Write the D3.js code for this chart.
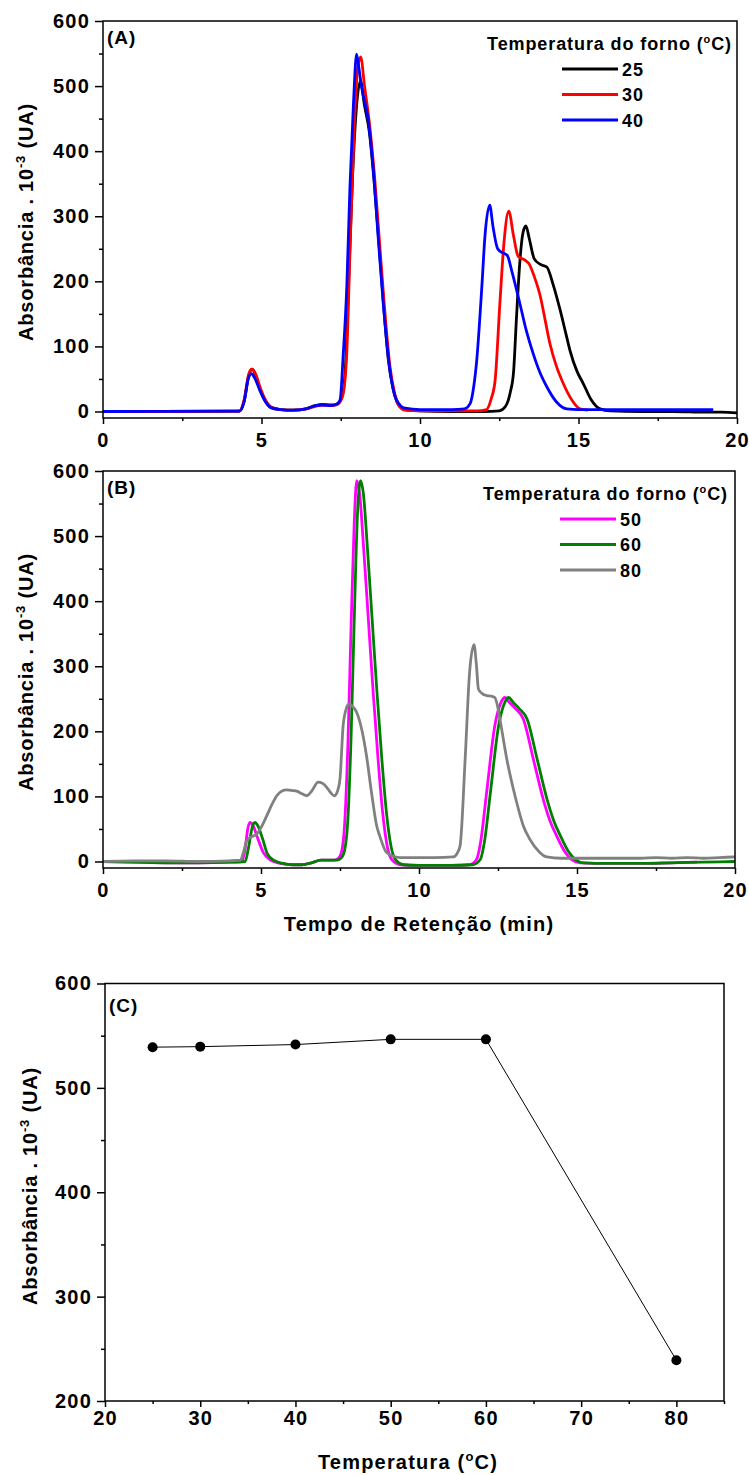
<!DOCTYPE html>
<html>
<head>
<meta charset="utf-8">
<script src="https://cdn.jsdelivr.net/npm/d3@7"></script>
<style>
    body { margin: 0; background: #fff; }
    text { font-family: "Liberation Sans", Arial, sans-serif; font-weight: bold; fill: #000; }
</style>
</head>
<body>
<svg id="fig" width="749" height="1475"></svg>
<script>
// ---- data ----
// panel A : tempo (min), absorbancia
var serie25 = [[0,0],[4.3,0.5],[4.45,15],[4.6,55],[4.7,65],[4.8,58],[4.95,35],[5.1,18],[5.3,6],[5.6,3],[6.0,2],[6.4,4],[6.7,9],[6.9,11],[7.2,10],[7.4,12],[7.55,25],[7.65,70],[7.75,200],[7.88,370],[8.0,470],[8.12,508],[8.25,470],[8.4,430],[8.55,355],[8.7,262],[8.85,165],[9.0,80],[9.15,35],[9.3,12],[9.5,3],[10,1],[11,0],[12,0],[12.5,1],[12.7,8],[12.85,30],[12.95,60],[13.05,150],[13.15,230],[13.25,275],[13.34,285],[13.45,265],[13.6,235],[13.8,226],[14.0,222],[14.2,195],[14.42,156],[14.6,120],[14.73,94],[14.95,62],[15.15,43],[15.4,18],[15.68,4],[16,1],[17,0],[18,0],[19,-1],[19.5,-1],[20,-2]];
var serie30 = [[0,0],[4.3,0.5],[4.45,18],[4.6,58],[4.7,65],[4.82,57],[4.95,38],[5.1,20],[5.3,7],[5.6,3],[6.0,2],[6.4,4],[6.7,8],[6.9,10],[7.2,9],[7.4,11],[7.55,22],[7.68,80],[7.8,260],[7.92,430],[8.04,530],[8.13,545],[8.25,500],[8.4,445],[8.56,365],[8.72,262],[8.88,160],[9.05,70],[9.2,28],[9.35,8],[9.55,2],[10,1],[11,1],[11.8,1],[12.1,3],[12.25,20],[12.37,48],[12.52,166],[12.65,260],[12.8,308],[12.95,270],[13.1,238],[13.3,233],[13.45,226],[13.6,208],[13.8,176],[13.95,140],[14.1,104],[14.3,70],[14.52,43],[14.8,17],[15.05,4],[15.3,2]];
var serie40 = [[0,0],[4.3,0.5],[4.45,15],[4.58,50],[4.68,58],[4.8,50],[4.95,32],[5.1,17],[5.3,6],[5.6,3],[6.0,2],[6.4,4],[6.7,9],[6.9,10],[7.2,9],[7.4,12],[7.48,18],[7.58,89],[7.69,191],[7.79,345],[7.9,472],[8.0,549],[8.08,525],[8.16,498],[8.37,447],[8.53,370],[8.68,268],[8.84,166],[9.05,64],[9.26,18],[9.53,5],[10,3],[11,3],[11.4,4],[11.58,12],[11.7,40],[11.79,79],[11.95,191],[12.05,270],[12.2,317],[12.3,285],[12.45,250],[12.6,244],[12.75,240],[12.9,215],[13.15,166],[13.35,125],[13.57,89],[13.8,58],[14.0,38],[14.3,15],[14.63,4],[15,3],[17,3],[19.25,3]];

// panel B
var serie50 = [[0,0],[1,-1],[2,-2],[3,-2],[4,-1],[4.4,0],[4.5,20],[4.58,50],[4.65,60],[4.75,55],[4.9,35],[5.07,14],[5.3,2],[5.6,-3],[6.0,-5],[6.3,-5],[6.6,-2],[6.9,2],[7.3,2],[7.45,5],[7.55,15],[7.65,60],[7.75,180],[7.85,360],[7.95,520],[8.03,585],[8.12,565],[8.25,480],[8.4,370],[8.55,260],[8.7,160],[8.85,75],[9.0,22],[9.15,2],[9.4,-5],[10,-6],[11,-6],[11.6,-5],[11.82,3],[11.95,30],[12.14,106],[12.4,209],[12.6,245],[12.72,252],[12.85,245],[13.05,235],[13.3,219],[13.62,157],[13.93,96],[14.15,62],[14.36,39],[14.6,16],[14.83,3],[15.1,-2],[16,-3],[17,-3],[18,-2],[18.8,-1]];
var serie60 = [[0,0],[1,-1],[2,-2],[3,-2],[4,-1],[4.5,0],[4.6,20],[4.72,52],[4.8,60],[4.9,55],[5.05,35],[5.2,12],[5.4,2],[5.7,-3],[6.0,-5],[6.3,-5],[6.6,-2],[6.9,2],[7.4,2],[7.55,6],[7.65,18],[7.75,65],[7.85,190],[7.95,370],[8.05,530],[8.15,585],[8.24,565],[8.37,480],[8.52,370],[8.67,260],[8.82,160],[8.97,75],[9.12,22],[9.27,2],[9.5,-5],[10,-6],[11,-6],[11.7,-5],[11.94,3],[12.07,30],[12.26,106],[12.52,209],[12.72,245],[12.84,252],[12.97,245],[13.17,235],[13.42,219],[13.74,157],[14.05,96],[14.27,62],[14.48,39],[14.72,16],[14.95,3],[15.2,-2],[16,-3],[17,-3],[18,-2],[19,-1],[20,0]];
var serie80 = [[0,0],[1,1],[2,1],[3,0],[4,1],[4.35,2],[4.45,15],[4.55,32],[4.7,38],[4.86,42],[5.0,52],[5.18,70],[5.35,88],[5.5,101],[5.65,108],[5.81,110],[6.0,109],[6.13,108],[6.3,104],[6.45,101],[6.6,108],[6.81,122],[6.95,120],[7.08,114],[7.2,106],[7.32,101],[7.42,108],[7.5,127],[7.6,209],[7.7,235],[7.79,242],[7.9,238],[8.03,229],[8.2,200],[8.34,162],[8.5,105],[8.66,55],[8.76,39],[8.97,14],[9.2,8],[9.4,6],[10,6],[10.5,6],[11.08,7],[11.2,12],[11.3,24],[11.46,157],[11.6,290],[11.74,333],[11.82,300],[11.88,265],[12.0,258],[12.14,255],[12.3,254],[12.4,252],[12.48,240],[12.56,219],[12.78,157],[13.09,91],[13.3,55],[13.51,34],[13.8,15],[14.04,7],[14.5,5],[15,5],[16,5],[17,5],[17.5,6],[18,5],[18.5,6],[19,5],[19.5,6],[20,7]];

// panel C
var temperaturas = [25, 30, 40, 50, 60, 80];
var absMax = [539, 539.5, 541.5, 546.5, 546.5, 239];

// ticks
var tempoTicks = [0, 5, 10, 15, 20];
var tempoMinor = [2.5, 7.5, 12.5, 17.5];
var absTicks = [0, 100, 200, 300, 400, 500, 600];
var absMinor = [50, 150, 250, 350, 450, 550];
var tempTicks = [20, 30, 40, 50, 60, 70, 80];
var tempMinor = [25, 35, 45, 55, 65, 75, 85];
var absCTicks = [200, 300, 400, 500, 600];
var absCMinor = [250, 350, 450, 550];

var legendA = ["25", "30", "40"];
var legendB = ["50", "60", "80"];
var coresA = ["#000000", "#ff0000", "#0000ff"];
var coresB = ["#ff00ff", "#008000", "#808080"];

var svg = d3.select("#fig");

function styleTicks(sel) {
    sel.attr("font-family", null).attr("font-size", null);
    sel.selectAll("text")
        .style("font-size", "20px")
        .style("letter-spacing", "1.2px");
    sel.selectAll("line").attr("stroke", "#000").attr("stroke-width", 1.5);
    sel.select(".domain").remove();
}

function yLabel(g, cx, cy) {
    var t = g.append("text")
        .attr("transform", "translate(" + cx + "," + cy + ") rotate(-90)")
        .attr("text-anchor", "middle")
        .style("font-size", "20px")
        .style("letter-spacing", "0.8px");
    t.append("tspan").text("Absorbância . 10");
    t.append("tspan").attr("dy", -8).style("font-size", "13px").text("-3");
    t.append("tspan").attr("dy", 8).text(" (UA)");
}

function drawAxes(g, x, y, w, h, xt, xm, yt, ym, xpad) {
    g.append("g")
        .attr("transform", "translate(0," + h + ")")
        .call(d3.axisBottom(x).tickValues(xm).tickSize(3).tickFormat("").tickSizeOuter(0))
        .call(styleTicks);
    g.append("g")
        .attr("transform", "translate(0," + h + ")")
        .call(d3.axisBottom(x).tickValues(xt).tickSize(6).tickPadding(xpad).tickSizeOuter(0).tickFormat(d3.format("d")))
        .call(styleTicks);
    g.append("g")
        .call(d3.axisLeft(y).tickValues(ym).tickSize(4).tickFormat("").tickSizeOuter(0))
        .call(styleTicks);
    g.append("g")
        .call(d3.axisLeft(y).tickValues(yt).tickSize(8).tickPadding(5).tickSizeOuter(0).tickFormat(d3.format("d")))
        .call(styleTicks);
    g.append("rect")
        .attr("width", w).attr("height", h)
        .attr("fill", "none").attr("stroke", "#000").attr("stroke-width", 1.5);
}

function drawChrom(box, series, cores, nomes, letra, legendX, legendTitleX) {
    var w = box.right - box.left, h = box.bottom - box.top;
    var g = svg.append("g").attr("transform", "translate(" + box.left + "," + box.top + ")");

    var x = d3.scaleLinear().domain([0, 20]).range([0, w]);
    var y = d3.scaleLinear().domain([-10, 600]).range([h, 0]);

    var line = d3.line().curve(d3.curveMonotoneX)
        .x(function(d) { return x(d[0]); })
        .y(function(d) { return y(d[1]); });

    g.append("clipPath").attr("id", "clip" + letra)
        .append("rect").attr("width", w).attr("height", h);

    g.append("g").attr("clip-path", "url(#clip" + letra + ")")
        .selectAll("path").data(series).enter().append("path")
        .attr("fill", "none")
        .attr("stroke", function(d, i) { return cores[i]; })
        .attr("stroke-width", 2.8)
        .attr("stroke-linejoin", "round")
        .attr("d", line);

    drawAxes(g, x, y, w, h, tempoTicks, tempoMinor, absTicks, absMinor, 9);

    g.append("text").attr("x", 4).attr("y", 23)
        .style("font-size", "19px").style("letter-spacing", "1px")
        .text("(" + letra + ")");

    // legend
    var lt = g.append("text")
        .attr("x", legendTitleX - box.left).attr("y", 29)
        .attr("text-anchor", "end")
        .style("font-size", "18px").style("letter-spacing", "0.9px");
    lt.append("tspan").text("Temperatura do forno (");
    lt.append("tspan").attr("dy", -7).style("font-size", "11px").text("o");
    lt.append("tspan").attr("dy", 7).text("C)");

    var item = g.selectAll(".leg").data(nomes).enter().append("g")
        .attr("transform", function(d, i) { return "translate(" + (legendX - box.left) + "," + (48 + i * 25.5) + ")"; });
    item.append("line")
        .attr("x1", 0).attr("x2", 56)
        .attr("stroke", function(d, i) { return cores[i]; })
        .attr("stroke-width", 3);
    item.append("text").attr("x", 60).attr("y", 6.5)
        .style("font-size", "18px").style("letter-spacing", "1px")
        .text(function(d) { return d; });

    return g;
}

// ---- panel A ----
var gA = drawChrom({ left: 103, right: 737, top: 21, bottom: 418 },
    [serie25, serie30, serie40], coresA, legendA, "A", 562, 732);
yLabel(svg, 33, 222);

// ---- panel B ----
var gB = drawChrom({ left: 103, right: 735, top: 471, bottom: 868 },
    [serie50, serie60, serie80], coresB, legendB, "B", 560, 728);
yLabel(svg, 33, 672);

svg.append("text")
    .attr("x", 419).attr("y", 931)
    .attr("text-anchor", "middle")
    .style("font-size", "20px").style("letter-spacing", "1.2px")
    .text("Tempo de Retenção (min)");

// ---- panel C ----
var boxC = { left: 105, right: 724, top: 983.5, bottom: 1401 };
var wC = boxC.right - boxC.left, hC = boxC.bottom - boxC.top;
var gC = svg.append("g").attr("transform", "translate(" + boxC.left + "," + boxC.top + ")");

var xC = d3.scaleLinear().domain([20, 85]).range([0, wC]);
var yC = d3.scaleLinear().domain([200, 600]).range([hC, 0]);

var pontos = temperaturas.map(function(t, i) { return [t, absMax[i]]; });

gC.append("path")
    .datum(pontos)
    .attr("fill", "none")
    .attr("stroke", "#000")
    .attr("stroke-width", 1)
    .attr("d", d3.line().x(function(d) { return xC(d[0]); }).y(function(d) { return yC(d[1]); }));

gC.selectAll("circle").data(pontos).enter().append("circle")
    .attr("cx", function(d) { return xC(d[0]); })
    .attr("cy", function(d) { return yC(d[1]); })
    .attr("r", 5)
    .attr("fill", "#000");

drawAxes(gC, xC, yC, wC, hC, tempTicks, tempMinor, absCTicks, absCMinor, 4);

gC.append("text").attr("x", 4).attr("y", 28)
    .style("font-size", "19px").style("letter-spacing", "1px")
    .text("(C)");

yLabel(svg, 37, 1186);

var xt = svg.append("text")
    .attr("x", 408).attr("y", 1469)
    .attr("text-anchor", "middle")
    .style("font-size", "20px").style("letter-spacing", "1.2px");
xt.append("tspan").text("Temperatura (");
xt.append("tspan").attr("dy", -8).style("font-size", "13px").text("o");
xt.append("tspan").attr("dy", 8).text("C)");
</script>
</body>
</html>
